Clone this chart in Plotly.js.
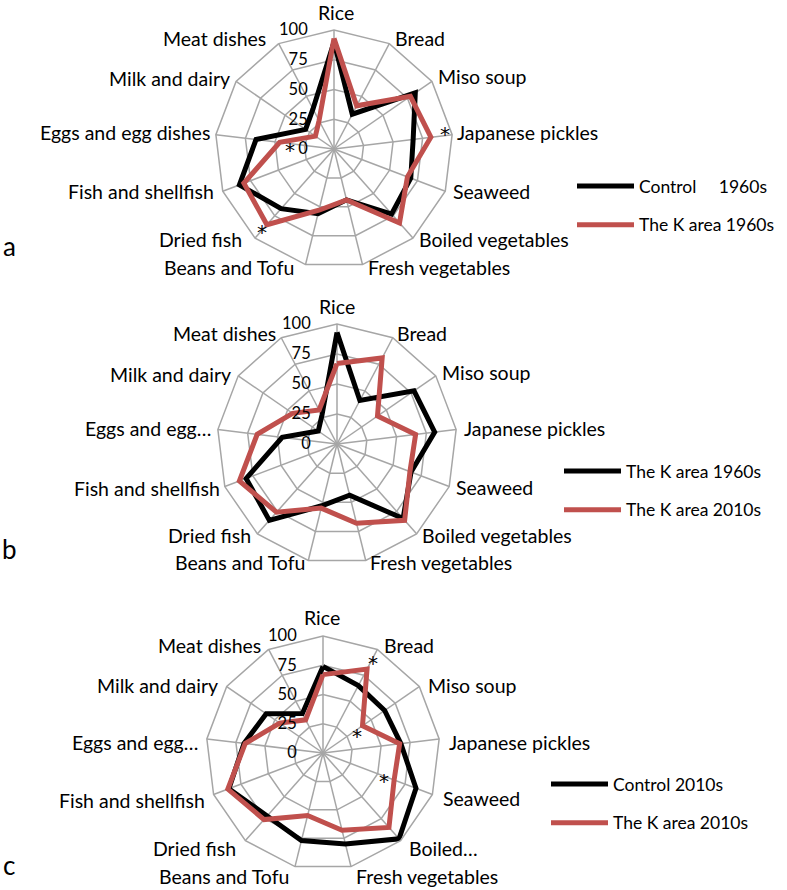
<!DOCTYPE html>
<html>
<head>
<meta charset="utf-8">
<script src="https://cdn.plot.ly/plotly-3.0.1.min.js"></script>
<style>html,body{margin:0;padding:0;background:#fff;}#chart{width:787px;height:890px;}</style>
</head>
<body>
<div id="chart"></div>
<script>
// Categories (13 food groups)
var categories = ["Rice","Bread","Miso soup","Japanese pickles","Seaweed","Boiled vegetables","Fresh vegetables","Beans and Tofu","Dried fish","Fish and shellfish","Eggs and egg dishes","Milk and dairy","Meat dishes"];
var labelsA = ["Rice","Bread","Miso soup","Japanese pickles","Seaweed","Boiled vegetables","Fresh vegetables","Beans and Tofu","Dried fish","Fish and shellfish","Eggs and egg dishes","Milk and dairy","Meat dishes"];
var labelsB = ["Rice","Bread","Miso soup","Japanese pickles","Seaweed","Boiled vegetables","Fresh vegetables","Beans and Tofu","Dried fish","Fish and shellfish","Eggs and egg…","Milk and dairy","Meat dishes"];
var labelsC = ["Rice","Bread","Miso soup","Japanese pickles","Seaweed","Boiled…","Fresh vegetables","Beans and Tofu","Dried fish","Fish and shellfish","Eggs and egg…","Milk and dairy","Meat dishes"];

// Series values (%)
var control1960 = [90, 33, 83, 67, 69, 73, 44, 56, 67, 85, 66, 29, 38];
var kArea1960   = [93, 41, 78, 82, 66, 83, 44, 53, 85, 81, 46, 19, 27];
var kArea2010   = [67, 81, 41, 66, 65, 85, 68, 55, 76, 87, 67, 45, 32];
var control2010 = [74, 65, 64, 67, 85, 98, 80, 77, 72, 86, 68, 59, 38];

var radialTicks = [0, 25, 50, 75, 100];

// Category label placement (pixel anchor points, per chart): [anchor, x, y]
var labelPosA = [["center",336,12],["left",393,39],["left",436,77],["left",455,133],["left",451,191],["left",417,239],["left",366,267],["right",296,267],["right",244,239],["right",216,191],["right",212,133],["right",232,78],["right",268,38]];
var labelPosB = [["center",337,306],["left",395,333],["left",440,372],["left",462,428],["left",454,487],["left",420,535],["left",368,562],["right",307,562],["right",253,535],["right",222,489],["right",213,428],["right",233,374],["right",278,333]];
var labelPosC = [["center",322,617],["left",382,645],["left",426,685],["left",447,742],["left",441,798],["left",407,848],["left",354,876],["right",291,876],["right",238,848],["right",207,800],["right",200,742],["right",220,685],["right",263,645]];

var BLACK = "#000000", RED = "#c0504d", GRID = "#a6a6a6";
var FONT = "Lato, 'Open Sans', sans-serif";
var FS = 17.5, LABEL_FS = 19.5, TICK_FS = 16.5;

function closed(arr){ return arr.concat([arr[0]]); }

function trace(vals, name, color, sub, leg, grp){
  return {
    type: "scatterpolar", mode: "lines",
    r: closed(vals), theta: closed(categories),
    name: name, subplot: sub, legend: leg, legendgroup: grp,
    line: {color: color, width: 5},
    hoverinfo: "skip"
  };
}

var data = [
  trace(control1960, "Control     1960s", BLACK, "polar", "legend", "a1"),
  trace(kArea1960, "The K area 1960s", RED, "polar", "legend", "a2"),
  trace(kArea1960, "The K area 1960s", BLACK, "polar2", "legend2", "b1"),
  trace(kArea2010, "The K area 2010s", RED, "polar2", "legend2", "b2"),
  trace(control2010, "Control 2010s", BLACK, "polar3", "legend3", "c1"),
  trace(kArea2010, "The K area 2010s", RED, "polar3", "legend3", "c2")
];

function polar(x0, x1, y0, y1){
  return {
    domain: {x: [x0, x1], y: [y0, y1]},
    gridshape: "linear",
    bgcolor: "rgba(0,0,0,0)",
    radialaxis: {
      range: [0, 100], tickvals: radialTicks, ticktext: radialTicks.map(String),
      angle: 90, side: "counterclockwise", tickangle: 90,
      showline: false, ticks: "outside", ticklen: 20, tickcolor: "rgba(0,0,0,0)",
      gridcolor: GRID, gridwidth: 1.5,
      tickfont: {family: FONT, size: TICK_FS, color: "#000"}
    },
    angularaxis: {
      rotation: 90, direction: "clockwise",
      tickvals: categories, showticklabels: false,
      showline: true, linecolor: GRID, linewidth: 1.5,
      gridcolor: GRID, gridwidth: 1.5, ticks: ""
    }
  };
}

function legend(x, y){
  return {
    x: x, y: y, xanchor: "left", yanchor: "top",
    font: {family: FONT, size: FS, color: "#000"},
    itemwidth: 57, traceorder: "grouped", tracegroupgap: 13,
    bgcolor: "rgba(0,0,0,0)", borderwidth: 0
  };
}

function ann(text, x, y, size, anchor, family){
  return {text: text, x: x / 787, y: 1 - y / 890, xref: "paper", yref: "paper",
    showarrow: false, xanchor: anchor || "center", yanchor: "middle",
    font: {family: family || FONT, size: size, color: "#000"}};
}

var annotations = [
  ann("a", 9, 246, 26), ann("b", 9, 549, 26), ann("c", 9, 865, 26),
  ann("*", 445, 134, 20, "center", "DejaVu Sans"), ann("*", 290, 150, 20, "center", "DejaVu Sans"), ann("*", 262, 232, 20, "center", "DejaVu Sans"),
  ann("*", 373, 663, 20, "center", "DejaVu Sans"), ann("*", 357, 736, 20, "center", "DejaVu Sans"), ann("*", 384, 781, 20, "center", "DejaVu Sans")
];
[[labelsA, labelPosA], [labelsB, labelPosB], [labelsC, labelPosC]].forEach(function(pair){
  pair[0].forEach(function(t, i){
    var p = pair[1][i];
    annotations.push(ann(t, p[1], p[2], LABEL_FS, p[0]));
  });
});

var layout = {
  width: 787, height: 890,
  margin: {l: 0, r: 0, t: 0, b: 0},
  paper_bgcolor: "#fff",
  font: {family: FONT, size: FS, color: "#000"},
  showlegend: true,
  polar: polar(215/787, 453/787, 1 - 268/890, 1 - 30/890),
  polar2: polar(217/787, 457/787, 1 - 564/890, 1 - 324/890),
  polar3: polar(206/787, 440/787, 1 - 870/890, 1 - 636/890),
  legend: legend(572/787, 1 - 168/890),
  legend2: legend(559/787, 1 - 453/890),
  legend3: legend(546/787, 1 - 766/890),
  annotations: annotations
};

Plotly.newPlot("chart", data, layout, {displayModeBar: false, staticPlot: true});
</script>
</body>
</html>
